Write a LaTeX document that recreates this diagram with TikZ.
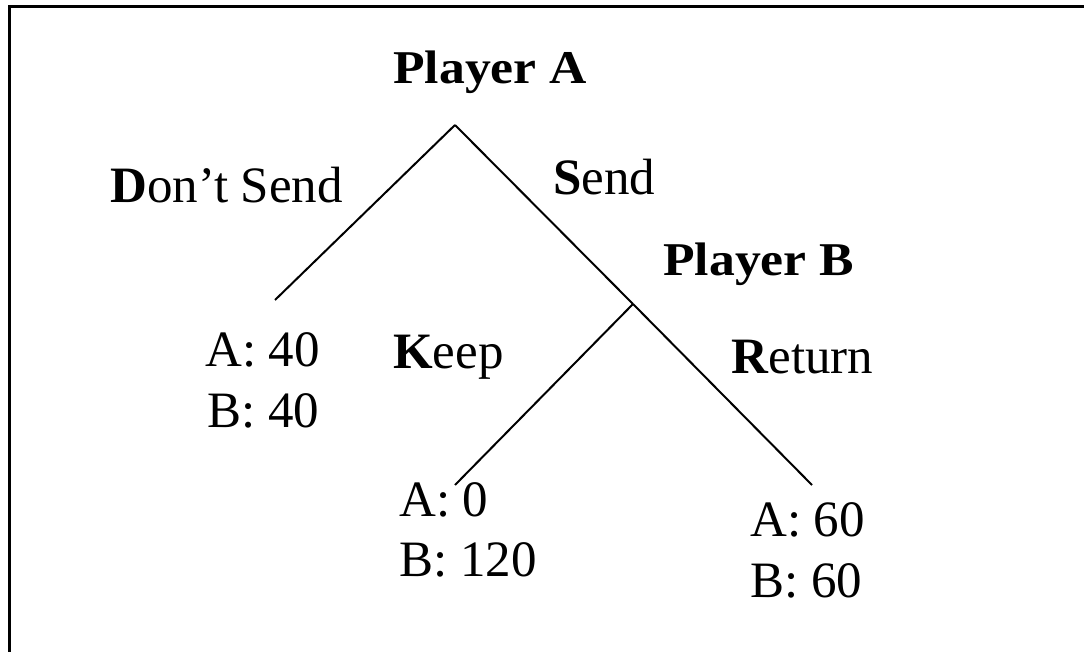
\documentclass[tikz,border=0pt]{standalone}
\usepackage{fontspec}
\setmainfont{Liberation Serif}
\begin{document}
\begin{tikzpicture}[x=1pt,y=-1pt,
  lbl/.style={inner sep=0pt,anchor=base west,font=\fontsize{51}{60}\selectfont},
  plbl/.style={inner sep=0pt,anchor=base west,font=\fontsize{47}{55}\selectfont\bfseries,xscale=1.1,transform shape},
  branch/.style={line width=2pt},
  frame/.style={line width=3pt}]
\useasboundingbox (0,0) rectangle (1084,652);
% frame (only top and left edges visible)
\coordinate (fTR) at (1084,7);
\coordinate (fTL) at (9,7);
\coordinate (fBL) at (9,652);
\draw[frame] (fTR) -- (fTL) -- (fBL);
% tree nodes
\coordinate (nA) at (455,125);
\coordinate (nD) at (275,300);
\coordinate (nB) at (633,304);
\coordinate (nK) at (455,485);
\coordinate (nR) at (812,485);
\draw[branch] (nA) -- (nD);
\draw[branch] (nA) -- (nB);
\draw[branch] (nB) -- (nK);
\draw[branch] (nB) -- (nR);
% labels
\node[plbl] (tA) at (393,84) {Player A};
\node[plbl] (tB) at (663,276) {Player B};
\node[lbl] (tDS) at (110,203) {\textbf{D}on’t Send};
\node[lbl] (tS) at (553,195) {\textbf{S}end};
\node[lbl] (tK) at (393,368) {\textbf{K}eep};
\node[lbl] (tR) at (731,373) {\textbf{R}eturn};
\node[lbl] (pDa) at (205,366) {A: 40};
\node[lbl] (pDb) at (207,427) {B: 40};
\node[lbl] (pKa) at (399,516) {A: 0};
\node[lbl] (pKb) at (399,576) {B: 120};
\node[lbl] (pRa) at (750,536) {A: 60};
\node[lbl] (pRb) at (750,597) {B: 60};
\end{tikzpicture}
\end{document}
